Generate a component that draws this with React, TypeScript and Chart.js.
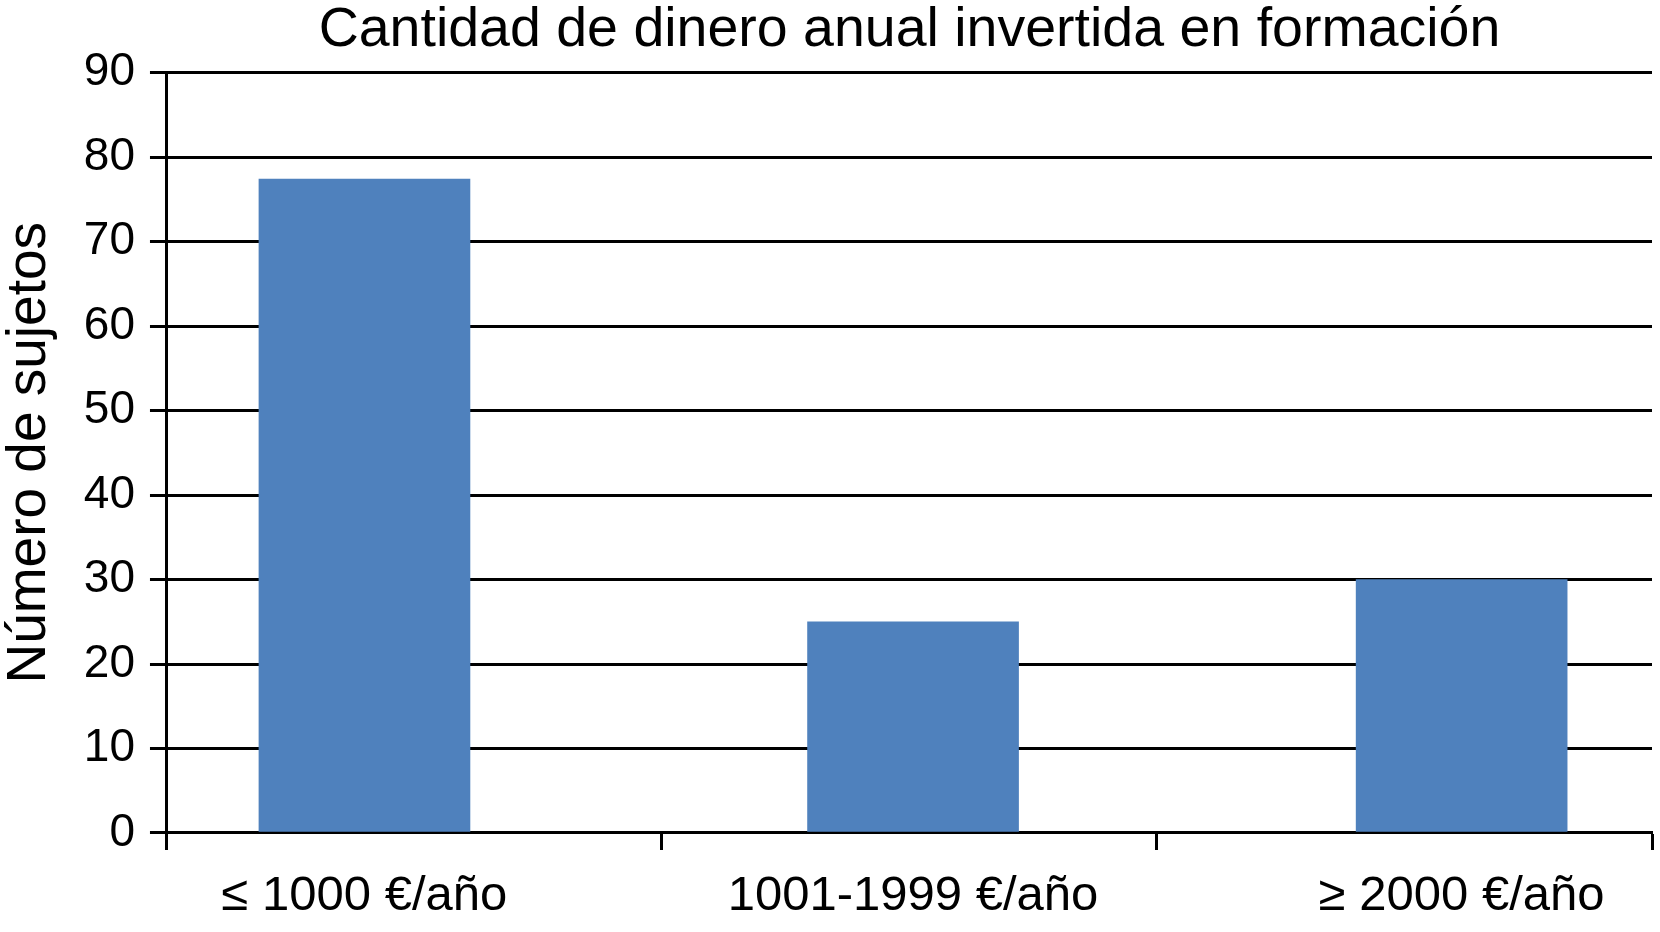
import React, { useEffect, useRef } from "react";
import { Chart, registerables } from "chart.js";

Chart.register(...registerables);

const TITLE = "Cantidad de dinero anual invertida en formación";
const Y_TITLE = "Número de sujetos";
const categories = ["≤ 1000 €/año", "1001-1999 €/año", "≥ 2000 €/año"];
const values = [77.4, 25, 30];
const Y_MIN = 0;
const Y_MAX = 90;
const Y_STEP = 10;

// x-axis window (in category-index units) and bar colour
const X_MIN = -0.36;
const X_MAX = 2.347;
const BAR_COLOR = "#4F81BD";
const FONT = "'Liberation Sans', Arial, Helvetica, sans-serif";

export default function App() {
  const ref = useRef<HTMLCanvasElement | null>(null);

  useEffect(() => {
    if (!ref.current) return;
    const points = values.map((v, i) => ({ x: i, y: v }));
    const chart = new Chart(ref.current, {
      type: "bar",
      data: {
        datasets: [
          {
            data: points,
            backgroundColor: BAR_COLOR,
            borderWidth: 0,
            barThickness: 211,
          },
        ],
      },
      options: {
        animation: false,
        responsive: true,
        maintainAspectRatio: false,
        layout: { padding: { left: 0, right: 8, top: 0, bottom: -10.8 } },
        plugins: {
          legend: { display: false },
          tooltip: { enabled: false },
          title: {
            display: true,
            fullSize: false,
            text: TITLE,
            color: "#000",
            font: { family: FONT, size: 55.5, weight: "normal", lineHeight: 1.1 },
            padding: { top: 0, bottom: 11.5 },
          },
        },
        scales: {
          x: {
            type: "linear",
            min: X_MIN,
            max: X_MAX,
            offset: false,
            afterBuildTicks: (scale: any) => {
              const w = (X_MAX - X_MIN) / categories.length;
              const t: { value: number }[] = [];
              for (let k = 0; k <= categories.length; k++) t.push({ value: X_MIN + k * w });
              categories.forEach((_, i) => t.push({ value: i }));
              t.sort((a, b) => a.value - b.value);
              scale.ticks = t;
            },
            grid: {
              display: true,
              offset: false,
              drawOnChartArea: false,
              drawTicks: true,
              tickLength: 17,
              tickWidth: 3,
              tickColor: (ctx: any) =>
                ctx.tick && Number.isInteger(ctx.tick.value) ? "rgba(0,0,0,0)" : "#000",
            },
            border: { display: true, color: "#000", width: 3 },
            ticks: {
              autoSkip: false,
              maxRotation: 0,
              minRotation: 0,
              padding: 0,
              color: "#000",
              font: { family: FONT, size: 49, lineHeight: 1.894 },
              callback: (value: any) =>
                Number.isInteger(value) && categories[value] !== undefined ? categories[value] : "",
            },
          },
          y: {
            min: Y_MIN,
            max: Y_MAX,
            grid: {
              color: "#000",
              lineWidth: 3,
              drawTicks: true,
              tickLength: 17,
              tickWidth: 3,
              tickColor: "#000",
            },
            border: { display: true, color: "#000", width: 3 },
            ticks: {
              stepSize: Y_STEP,
              padding: 15,
              color: "#000",
              font: { family: FONT, size: 46, lineHeight: 1.2 },
            },
            title: {
              display: true,
              text: Y_TITLE,
              color: "#000",
              font: { family: FONT, size: 55, lineHeight: 1.1 },
              padding: { top: 0, bottom: 8.3 },
            },
          },
        },
      },
    });
    return () => chart.destroy();
  }, []);

  return (
    <div
      style={{
        position: "fixed",
        left: 0,
        top: 0,
        width: 1660,
        height: 932,
        background: "#fff",
      }}
    >
      <canvas ref={ref} />
    </div>
  );
}
